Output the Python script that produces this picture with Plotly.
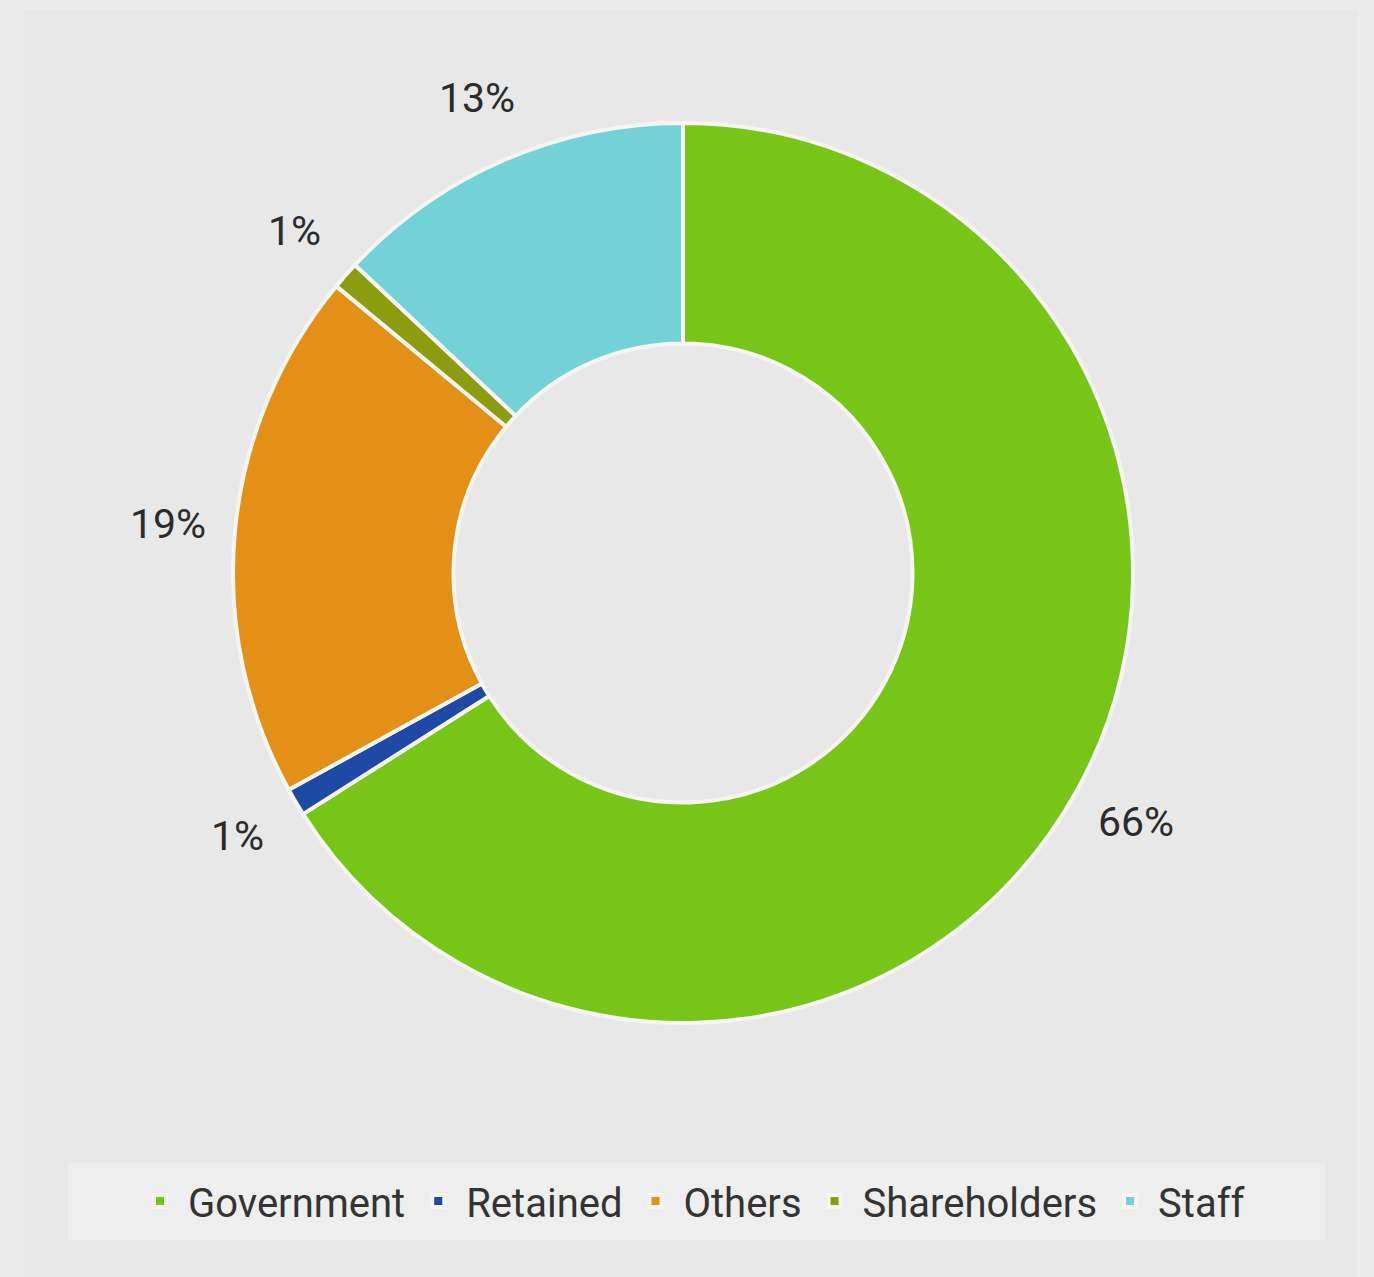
import math
import plotly.graph_objects as go

categories = ["Government", "Retained", "Others", "Shareholders", "Staff"]
values = [66, 1, 19, 1, 13]
colors = ["#77c517", "#1e49a5", "#e48f16", "#8b9c0e", "#73d2d6"]

W, H = 1374, 1277
ML, MR, MT, MB = 33, 41, 123, 254
PW = W - ML - MR
PH = H - MT - MB
R_PX = min(PW, PH) / 2


def px_x(x):
    return (x - ML) / PW


def px_y(y):
    return (H - MB - y) / PH


fig = go.Figure(go.Pie(
    labels=categories,
    values=values,
    marker=dict(colors=colors, line=dict(color="#f5f5f2", width=4)),
    hole=0.51,
    sort=False,
    direction="clockwise",
    rotation=0,
    textinfo="none",
    hoverinfo="label+percent",
))

# percentage labels placed outside the ring at each slice's mid-angle
total = sum(values)
cum = 0
annotations = []
for v in values:
    mid = (cum + v / 2) / total * 2 * math.pi
    cum += v
    r = R_PX * 1.15
    x = 0.5 + r * math.sin(mid) / PW
    y = 0.5 + r * math.cos(mid) / PH
    annotations.append(dict(
        x=x, y=y, xref="paper", yref="paper", text=f"{v}%",
        showarrow=False, xanchor="center", yanchor="middle",
        font=dict(family="Roboto, Arial, sans-serif", size=41, color="#2b2b2b"),
    ))

fig.update_layout(
    width=W, height=H,
    margin=dict(l=ML, r=MR, t=MT, b=MB),
    paper_bgcolor="#ececec",
    plot_bgcolor="#e8e8e8",
    showlegend=True,
    legend=dict(
        orientation="h",
        x=px_x(691), xanchor="center",
        y=px_y(1201), yanchor="middle",
        bgcolor="rgba(0,0,0,0)",
        font=dict(family="Roboto, Arial, sans-serif", size=40, color="#333333"),
        itemwidth=46,
        traceorder="normal",
    ),
    annotations=annotations,
    shapes=[
        dict(
            type="rect", xref="paper", yref="paper", layer="below",
            x0=px_x(24), x1=px_x(1357), y0=px_y(1277), y1=px_y(10),
            fillcolor="#e8e8e8", line=dict(width=0),
        ),
        dict(
            type="rect", xref="paper", yref="paper", layer="below",
            x0=px_x(68), x1=px_x(1325), y0=px_y(1240), y1=px_y(1163),
            fillcolor="#eeeeee", line=dict(width=0),
        ),
    ],
)

fig.write_html(
    "out.html",
    config={"displayModeBar": False},
    post_script="document.body.style.margin='0';document.body.style.background='#ececec';",
)
